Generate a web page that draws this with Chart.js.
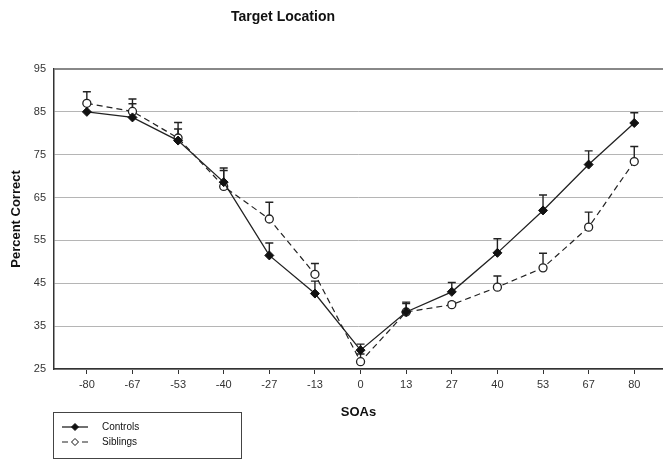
<!DOCTYPE html>
<html lang="en">
<head>
<meta charset="UTF-8">
<title>Target Location</title>
<script src="https://cdn.jsdelivr.net/npm/chart.js"></script>
<style>
  html, body { margin: 0; padding: 0; background: #fff; }
  #wrap { width: 663px; height: 460px; }
</style>
</head>
<body>
<div id="wrap"><canvas id="soaChart" width="663" height="460"></canvas></div>
<script>
// SOA categories (x tick labels)
const soaLabels = ['-80', '-67', '-53', '-40', '-27', '-13', '0', '13', '27', '40', '53', '67', '80'];
// percent correct
const controls = [85, 83.7, 78.3, 68.6, 51.5, 42.6, 29.4, 38.3, 43, 52.1, 62, 72.7, 82.4];
const siblings = [87, 85.1, 78.9, 67.6, 60, 47.1, 26.7, 38.3, 40, 44.1, 48.6, 58.1, 73.4];
// top of the error bars
const controlsUpper = [86.8, 86.9, 81, 71.3, 54.4, 45.5, 30.8, 40.6, 45.2, 55.4, 65.6, 75.9, 84.8];
const siblingsUpper = [89.7, 88, 82.5, 71.9, 63.9, 49.6, 28.5, 40.3, 40.6, 46.7, 52, 61.6, 76.9];
const yTicks = [25, 35, 45, 55, 65, 75, 85, 95];

const FONT = '"Liberation Sans", Arial, sans-serif';

const errorBars = {
    id: 'errorBars',
    beforeDatasetsDraw(chart) {
        const ctx = chart.ctx;
        const xs = chart.scales.x, ys = chart.scales.y;
        const sets = [[controls, controlsUpper], [siblings, siblingsUpper]];
        ctx.save();
        ctx.strokeStyle = '#222';
        ctx.lineWidth = 1.4;
        sets.forEach(([vals, ups]) => {
            vals.forEach((v, i) => {
                const x = xs.getPixelForValue(i);
                const y0 = ys.getPixelForValue(v);
                const y1 = ys.getPixelForValue(ups[i]);
                ctx.beginPath();
                ctx.moveTo(x, y0);
                ctx.lineTo(x, y1);
                ctx.moveTo(x - 4, y1);
                ctx.lineTo(x + 4, y1);
                ctx.stroke();
            });
        });
        ctx.restore();
    }
};

const textAndLegend = {
    id: 'textAndLegend',
    afterDraw(chart) {
        const ctx = chart.ctx;
        const area = chart.chartArea;
        ctx.save();
        ctx.fillStyle = '#111';
        ctx.textAlign = 'center';
        ctx.textBaseline = 'middle';
        // chart title
        ctx.font = 'bold 14px ' + FONT;
        ctx.fillText('Target Location', 283, 17);
        // axis titles
        ctx.font = 'bold 13px ' + FONT;
        ctx.fillText('SOAs', (area.left + area.right) / 2, 412);
        ctx.save();
        ctx.translate(16, (area.top + area.bottom) / 2);
        ctx.rotate(-Math.PI / 2);
        ctx.fillText('Percent Correct', 0, 0);
        ctx.restore();

        // legend box
        ctx.strokeStyle = '#444';
        ctx.lineWidth = 1;
        ctx.strokeRect(53.5, 412.5, 188, 46);
        ctx.font = '10px ' + FONT;
        ctx.textAlign = 'left';
        chart.data.datasets.forEach((ds, i) => {
            const y = 427 + i * 15;
            ctx.save();
            ctx.strokeStyle = ds.borderColor;
            ctx.lineWidth = ds.borderWidth;
            ctx.setLineDash(ds.borderDash || []);
            ctx.beginPath();
            ctx.moveTo(62, y);
            ctx.lineTo(88, y);
            ctx.stroke();
            ctx.restore();
            ctx.save();
            ctx.fillStyle = ds.pointBackgroundColor;
            ctx.strokeStyle = '#111';
            ctx.lineWidth = 1;
            ctx.beginPath();
            ctx.moveTo(75, y - 3.5);
            ctx.lineTo(78.5, y);
            ctx.lineTo(75, y + 3.5);
            ctx.lineTo(71.5, y);
            ctx.closePath();
            ctx.fill();
            ctx.stroke();
            ctx.restore();
            ctx.fillStyle = '#111';
            ctx.fillText(ds.label, 102, y);
        });
        ctx.restore();
    }
};

const ctx = document.getElementById('soaChart').getContext('2d');
new Chart(ctx, {
    type: 'line',
    data: {
        datasets: [
            {
                label: 'Controls',
                data: controls.map((v, i) => ({ x: i, y: v })),
                borderColor: '#222',
                borderWidth: 1.3,
                pointStyle: 'rectRot',
                pointRadius: 4.5,
                pointBackgroundColor: '#111',
                pointBorderColor: '#111',
                pointBorderWidth: 1,
                tension: 0
            },
            {
                label: 'Siblings',
                data: siblings.map((v, i) => ({ x: i, y: v })),
                borderColor: '#222',
                borderWidth: 1.2,
                borderDash: [6, 4],
                pointStyle: 'circle',
                pointRadius: 4,
                pointBackgroundColor: '#fff',
                pointBorderColor: '#222',
                pointBorderWidth: 1.3,
                tension: 0
            }
        ]
    },
    options: {
        responsive: false,
        animation: false,
        layout: {
            autoPadding: false,
            padding: { top: 69, left: 0, right: 0, bottom: 0 }
        },
        plugins: {
            legend: { display: false },
            title: { display: false },
            tooltip: { enabled: false }
        },
        scales: {
            x: {
                type: 'linear',
                min: -0.72,
                max: 12.63,
                afterFit: s => {
                    s.height = 91;
                    s.paddingLeft = 0;
                    s.paddingRight = 0;
                },
                afterBuildTicks: s => {
                    s.ticks = soaLabels.map((_, i) => ({ value: i }));
                },
                ticks: {
                    callback: v => soaLabels[v],
                    font: { family: FONT, size: 11 },
                    color: '#333',
                    padding: 4,
                    maxRotation: 0,
                    autoSkip: false
                },
                grid: {
                    drawOnChartArea: false,
                    tickLength: 5,
                    color: '#333'
                },
                border: { color: '#333', width: 1.5 }
            },
            y: {
                min: 25,
                max: 95,
                afterFit: s => { s.width = 54; },
                afterBuildTicks: s => {
                    s.ticks = yTicks.map(v => ({ value: v }));
                },
                ticks: {
                    font: { family: FONT, size: 11 },
                    color: '#333',
                    padding: 8
                },
                grid: {
                    tickLength: 0,
                    color: c => c.tick && c.tick.value === 95 ? '#888' : '#b5b5b5',
                    lineWidth: c => c.tick && c.tick.value === 95 ? 2 : 1
                },
                border: { color: '#333', width: 1.5 }
            }
        }
    },
    plugins: [errorBars, textAndLegend]
});
</script>
</body>
</html>
